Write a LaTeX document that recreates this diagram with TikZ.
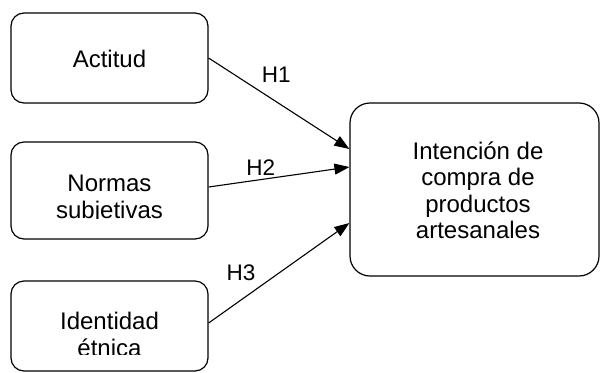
\documentclass[tikz,border=0pt]{standalone}
\usepackage{fontspec}
\setmainfont{Liberation Sans}
\usetikzlibrary{arrows.meta}
\tikzset{factor/.style = {draw, line width=1.2pt, rounded corners=13pt,
                          minimum width=197pt, inner sep=0pt},
         caption/.style = {align=center, inner sep=0pt,
                           font=\fontsize{24}{27}\selectfont},
         hyp/.style = {-{Triangle[length=15pt,width=11pt]}, line width=1.1pt},
         hlabel/.style = {font=\fontsize{22.5}{26}\selectfont}}

\begin{document}
\begin{tikzpicture}[x=1pt, y=-1pt]
    \useasboundingbox (0,0) rectangle (601,372);
    % boxes
    \node [factor, minimum height=90pt] (actitud) at (109.5,58) {};
    \node [factor, minimum height=97pt] (normas) at (109.5,190.5) {};
    \node [factor, minimum height=90pt] (identidad) at (109.5,326) {};
    \node [factor, rounded corners=20pt, minimum width=249pt,
           minimum height=173pt] (intencion) at (474.5,189.5) {};
    % texts (base = last line)
    \node [caption, anchor=base] (actitud text) at (109.5,67) {Actitud};
    \begin{scope}
      \clip (normas.north west) rectangle (208,218.5);
      \node [caption, anchor=base] (normas text) at (109.5,218.5) {Normas\\subjetivas};
    \end{scope}
    \begin{scope}
      \clip (identidad.north west) rectangle (208,354.5);
      \node [caption, anchor=base] (identidad text) at (109.5,356) {Identidad\\étnica};
    \end{scope}
    \node [caption, anchor=base, font=\fontsize{24}{26.5}\selectfont]
          (intencion text) at (478,238.5) {Intención de\\compra de\\productos\\artesanales};
    % hypotheses
    \draw [hyp] (actitud.east) -- ([yshift=40.5pt]intencion.west)
          node [hlabel, pos=0.35, anchor=south west, yshift=3pt] (h1) {H1};
    \draw [hyp] ([yshift=3.5pt]normas.east) -- ([yshift=22.5pt]intencion.west)
          node [hlabel, pos=0.37, above] (h2) {H2};
    \draw [hyp] ([yshift=3pt]identidad.east) -- ([yshift=-33.5pt]intencion.west)
          node [hlabel, pos=0.36, anchor=south east, yshift=2pt] (h3) {H3};
\end{tikzpicture}
\end{document}
